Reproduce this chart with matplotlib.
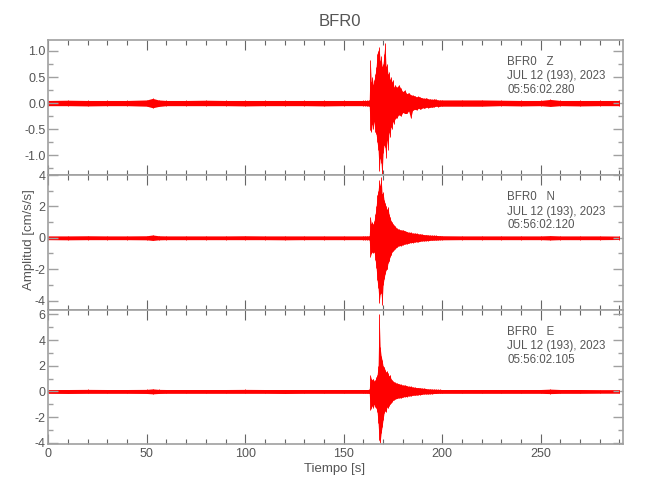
import matplotlib
matplotlib.use('Agg')
import matplotlib.pyplot as plt
import numpy as np
from matplotlib.ticker import MultipleLocator, FormatStrFormatter

plt.rcParams['font.family'] = ['Liberation Sans Narrow', 'Liberation Sans', 'DejaVu Sans']
plt.rcParams['axes.unicode_minus'] = True

# envelope knots (s)
t = [0, 10, 20, 30, 40, 50, 53, 56, 60, 70, 80, 90, 100, 110, 120, 130, 140, 150, 160,
     161, 162, 163, 163.5, 164, 164.5, 165, 165.5, 166, 166.5, 167, 167.5, 168, 168.5,
     169, 169.5, 170, 170.5, 171, 171.5, 172, 172.5, 173, 173.5, 174, 174.5, 175, 175.5,
     176, 177, 178, 179, 180, 181, 182, 183, 184, 185, 186, 187, 188, 189, 190, 191, 192,
     193, 194, 195, 196, 197, 198, 199, 200, 210, 220, 230, 240, 250, 255, 260, 270, 280, 290]

z_hi = [.05, .055, .05, .05, .05, .06, .09, .06, .05, .05, .055, .05, .05, .05, .05, .05, .05, .05, .05,
        .05, .05, .06, .83, .40, .50, .35, .45, .55, .70, .95, 1.00, 1.07, .80,
        .90, .70, .75, .95, 1.15, .70, .75, .55, .60, .45, .50, .40, .45, .30,
        .35, .30, .35, .28, .22, .25, .18, .20, .16, .15, .14, .12, .13, .11, .10, .09, .10,
        .08, .08, .07, .08, .07, .06, .06, .06, .06, .06, .055, .05, .05, .07, .05, .05, .05, .05]
z_lo = [-.05, -.05, -.055, -.05, -.05, -.06, -.09, -.065, -.05, -.05, -.05, -.05, -.055, -.05, -.05, -.05, -.055, -.05, -.05,
        -.05, -.055, -.06, -.52, -.55, -.40, -.50, -.35, -.55, -.60, -.75, -.90, -1.30, -1.05,
        -1.15, -1.42, -.95, -.80, -.85, -1.05, -.70, -.90, -.55, -.65, -.45, -.50, -.35, -.40,
        -.30, -.28, -.22, -.25, -.18, -.20, -.20, -.15, -.29, -.14, -.12, -.13, -.10, -.12, -.09, -.10, -.08,
        -.09, -.08, -.08, -.07, -.06, -.07, -.06, -.06, -.06, -.06, -.05, -.055, -.05, -.065, -.05, -.055, -.05, -.05]

n_hi = [.12, .12, .13, .12, .12, .13, .18, .13, .12, .12, .12, .12, .13, .12, .12, .12, .12, .12, .12,
        .12, .12, .13, 1.33, .90, 1.00, .85, 1.10, 1.50, 2.00, 2.70, 3.00, 3.66, 3.30,
        3.87, 2.80, 2.90, 2.40, 2.20, 2.00, 1.80, 1.97, 1.50, 1.30, 1.10, 1.00, .90, .80,
        .75, .60, .55, .50, .50, .45, .40, .35, .35, .30, .30, .28, .25, .25, .22, .20, .20,
        .18, .17, .16, .16, .15, .14, .14, .13, .12, .12, .12, .12, .12, .14, .12, .12, .12, .11]
n_lo = [-.12, -.13, -.12, -.12, -.12, -.13, -.17, -.13, -.12, -.12, -.12, -.12, -.12, -.12, -.13, -.12, -.12, -.12, -.12,
        -.12, -.12, -.13, -1.20, -1.00, -.90, -.95, -.90, -1.40, -1.90, -2.70, -3.20, -4.15, -3.60,
        -3.50, -4.27, -3.00, -2.60, -2.30, -2.05, -2.00, -1.60, -1.50, -1.20, -1.10, -.90, -.85, -.75,
        -.70, -.60, -.50, -.50, -.45, -.40, -.38, -.35, -.30, -.30, -.28, -.25, -.25, -.22, -.20, -.20, -.18,
        -.18, -.16, -.16, -.15, -.15, -.14, -.13, -.13, -.12, -.12, -.12, -.12, -.12, -.14, -.12, -.12, -.12, -.11]

e_hi = [.15, .15, .16, .15, .15, .16, .20, .16, .15, .15, .15, .15, .16, .15, .15, .15, .15, .15, .15,
        .15, .15, .16, 1.27, 1.00, .90, 1.00, .80, .90, 1.10, 1.30, 2.00, 6.07, 3.47,
        2.80, 2.44, 2.00, 1.90, 1.70, 1.50, 1.60, 1.40, 1.20, 1.30, 1.00, .90, .80, .75,
        .70, .65, .60, .55, .50, .50, .45, .40, .40, .35, .33, .30, .30, .28, .25, .25, .22,
        .20, .20, .18, .18, .17, .16, .16, .15, .15, .15, .15, .15, .15, .18, .15, .15, .14, .14]
e_lo = [-.15, -.16, -.15, -.15, -.15, -.16, -.19, -.16, -.15, -.15, -.15, -.15, -.15, -.15, -.16, -.15, -.15, -.15, -.15,
        -.15, -.15, -.16, -1.46, -1.30, -1.10, -1.30, -1.00, -1.20, -1.30, -1.60, -2.50, -3.80, -4.00,
        -3.25, -2.75, -2.20, -1.70, -1.50, -1.60, -1.20, -1.30, -1.10, -1.00, -.90, -.80, -.70, -.65,
        -.60, -.55, -.50, -.50, -.45, -.40, -.40, -.35, -.35, -.30, -.30, -.28, -.25, -.25, -.22, -.20, -.20,
        -.20, -.18, -.18, -.16, -.16, -.15, -.15, -.15, -.15, -.15, -.15, -.15, -.15, -.17, -.15, -.15, -.14, -.14]

components = ['Z', 'N', 'E']
start_times = ['05:56:02.280', '05:56:02.120', '05:56:02.105']
ylims = [(-1.38, 1.21), (-4.6, 4.0), (-4.1, 6.35)]
ymajor = [0.5, 2, 2]
yminor = [0.25, 1, 1]
yfmt = ['%.1f', '%d', '%d']

gray = '#a0a0a0'
txt = '#555555'

fig = plt.figure(figsize=(6.5, 5), dpi=100)
boxes = [[0.0743, 0.65, 0.8846, 0.27],
         [0.0743, 0.38, 0.8846, 0.27],
         [0.0743, 0.112, 0.8846, 0.268]]

for i, (hi, lo) in enumerate([(z_hi, z_lo), (n_hi, n_lo), (e_hi, e_lo)]):
    ax = fig.add_axes(boxes[i])
    ax.fill_between(t, lo, hi, color='red', lw=0)
    ax.vlines(t, lo, hi, color='red', lw=0.6, clip_on=False)
    ax.set_xlim(0, 292)
    ax.set_ylim(*ylims[i])
    ax.xaxis.set_major_locator(MultipleLocator(50))
    ax.xaxis.set_minor_locator(MultipleLocator(10))
    ax.yaxis.set_major_locator(MultipleLocator(ymajor[i]))
    ax.yaxis.set_minor_locator(MultipleLocator(yminor[i]))
    ax.yaxis.set_major_formatter(FormatStrFormatter(yfmt[i]))
    ax.tick_params(axis='both', which='both', direction='in', top=True, right=True, labelcolor=txt, labelsize=9)
    ax.tick_params(axis='x', which='major', length=7, width=0.8, color='#666666', pad=3)
    ax.tick_params(axis='x', which='minor', length=3.6, width=0.8, color='#666666')
    ax.tick_params(axis='y', which='major', length=7, width=1.0, color=gray, pad=2)
    ax.tick_params(axis='y', which='minor', length=3.6, width=1.0, color=gray)
    for s in ax.spines.values():
        s.set_color(gray)
        s.set_linewidth(1.2)
    if i < 2:
        ax.tick_params(axis='x', labelbottom=False)
    ax.text(0.798, 1 - 22 / 135, 'BFR0   ' + components[i], transform=ax.transAxes,
            fontsize=8.3, color=txt, va='center', ha='left')
    ax.text(0.798, 1 - 36.5 / 135, 'JUL 12 (193), 2023', transform=ax.transAxes,
            fontsize=8.3, color=txt, va='center', ha='left')
    ax.text(0.798, 1 - 50 / 135, start_times[i], transform=ax.transAxes,
            fontsize=8.3, color=txt, va='center', ha='left')

fig.text(0.523, 1 - 22 / 500, 'BFR0', fontsize=12, color=txt, ha='center', va='center')
fig.text(0.515, 1 - 469 / 500, 'Tiempo [s]', fontsize=9.5, color=txt, ha='center', va='center')
fig.text(0.044, 1 - 240 / 500, 'Amplitud [cm/s/s]', fontsize=9.5, color=txt, ha='center', va='center', rotation=90)

fig.savefig('out.png', dpi=100)
